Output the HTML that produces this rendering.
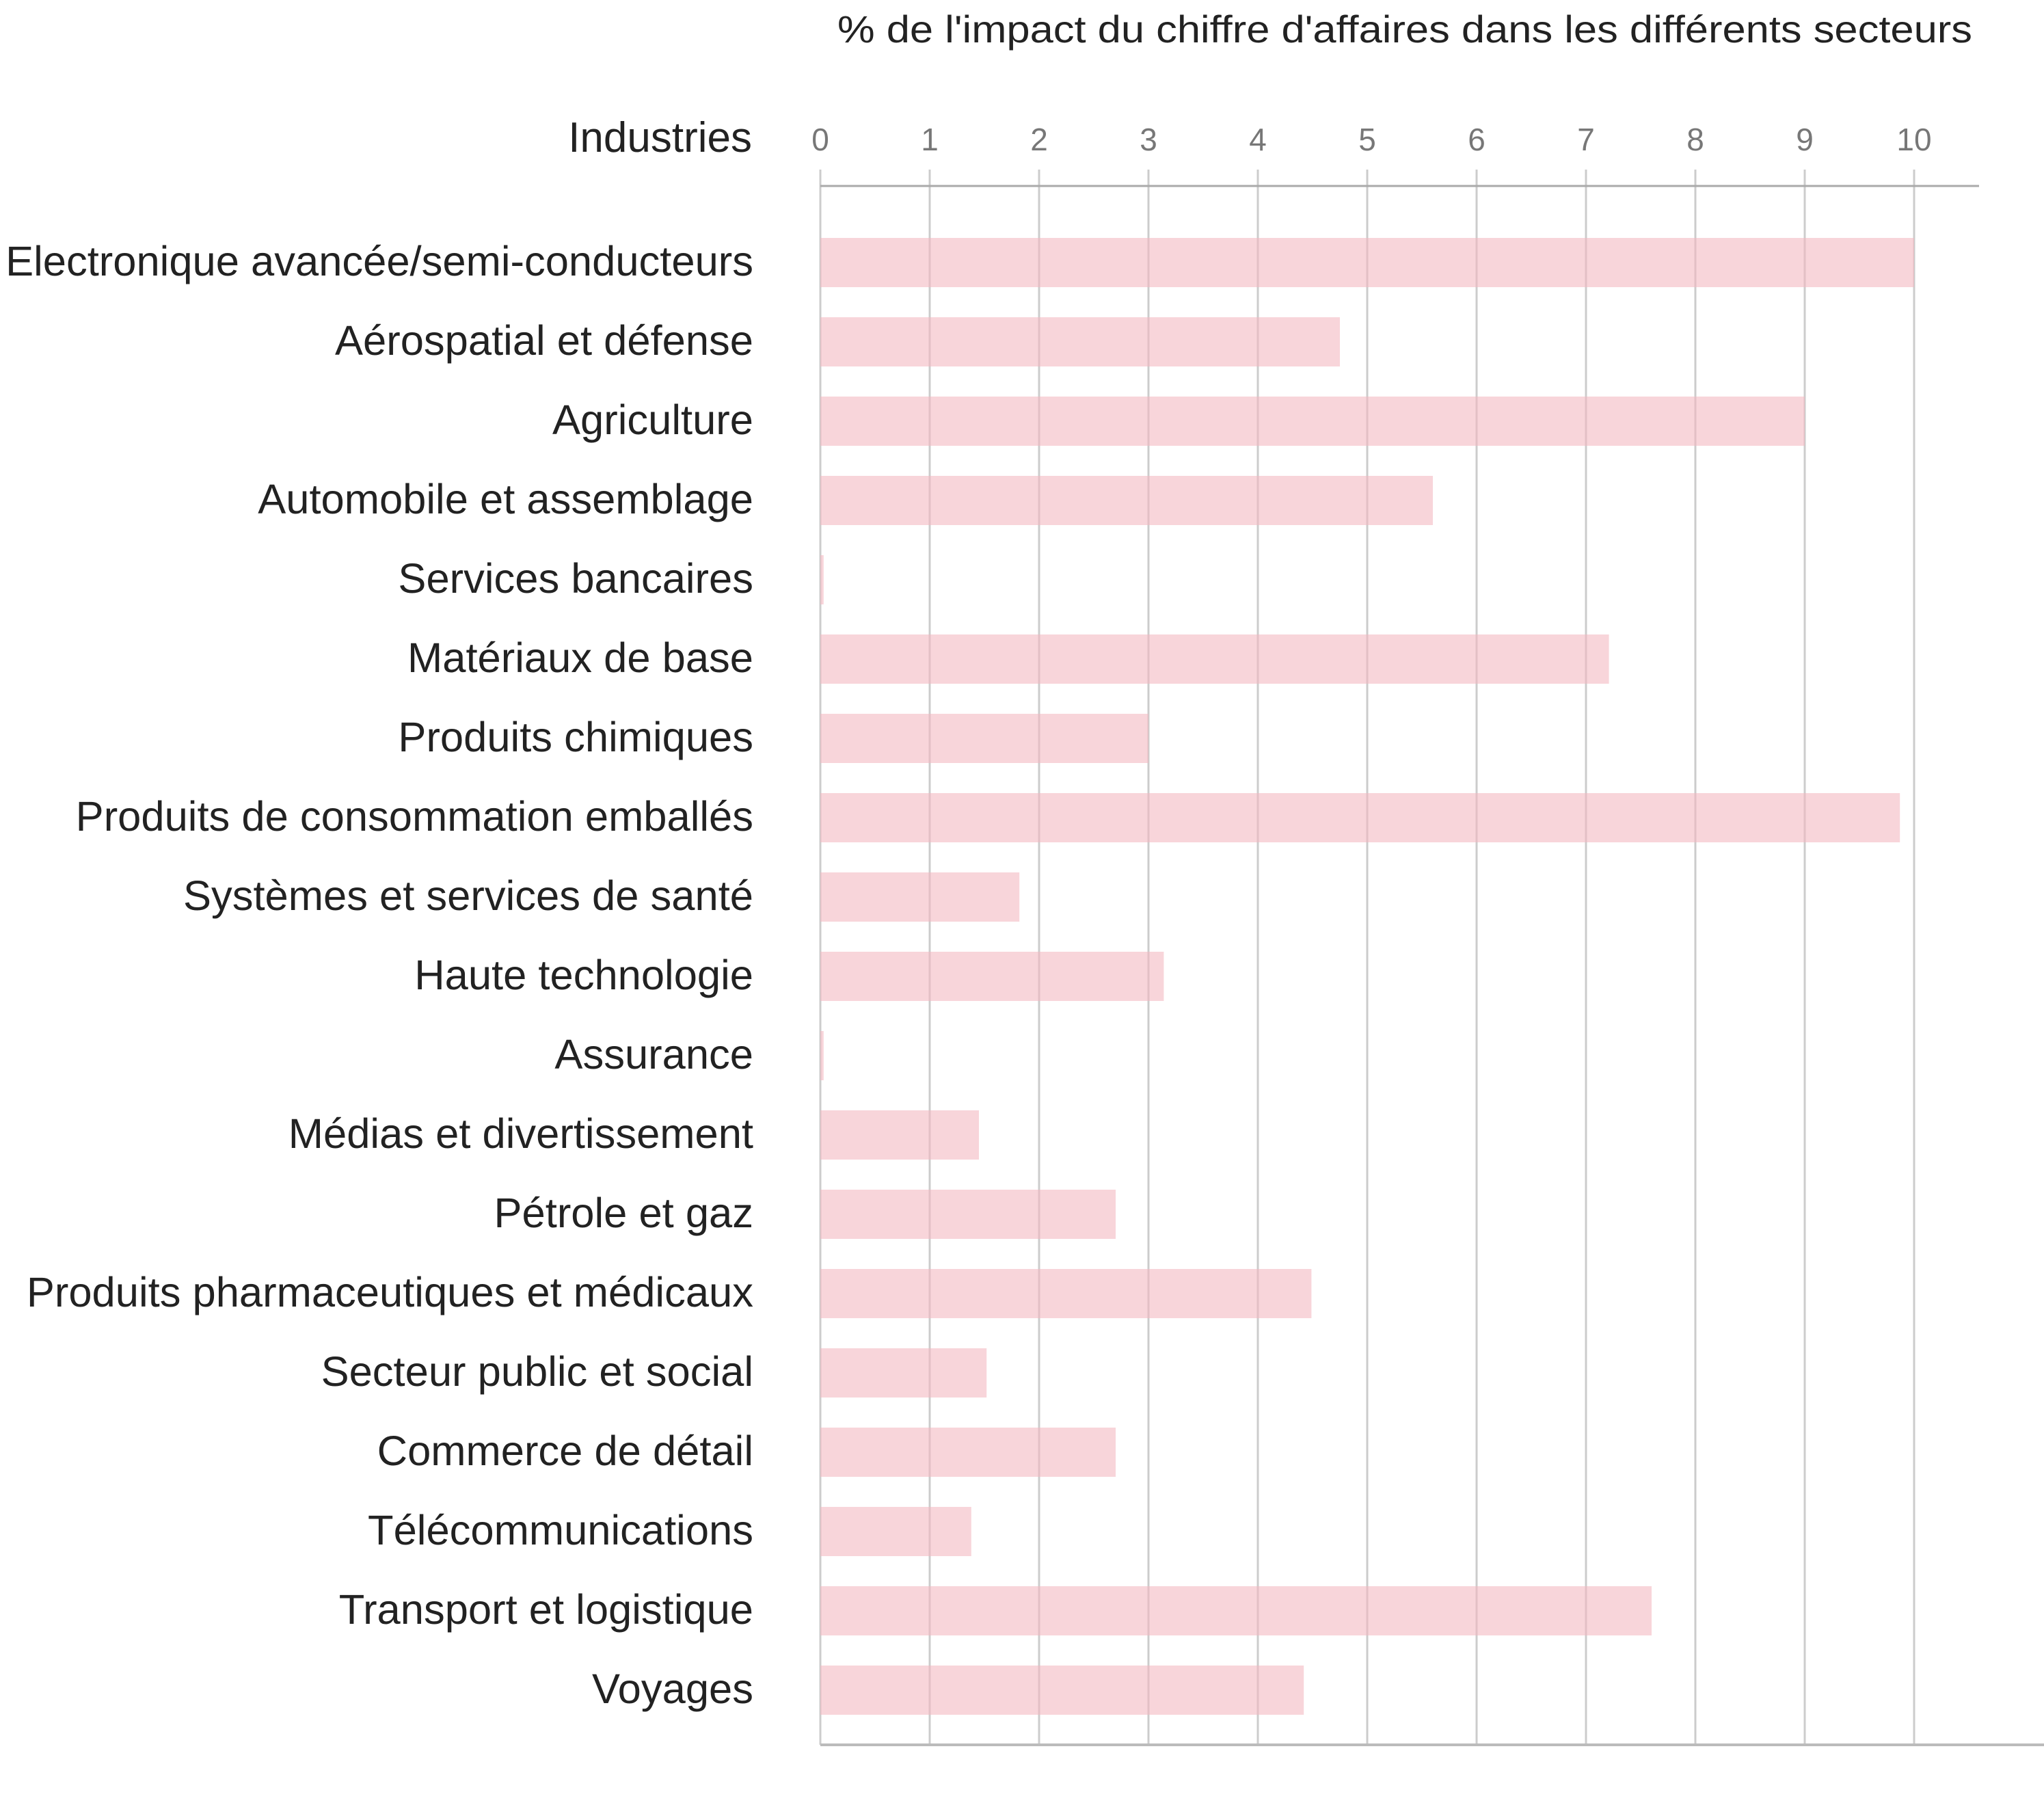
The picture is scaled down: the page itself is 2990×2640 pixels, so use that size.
<!DOCTYPE html>
<html><head><meta charset="utf-8"><style>
html,body{margin:0;padding:0;background:#fff;}
svg{display:block;font-family:"Liberation Sans",sans-serif;}
</style></head><body>
<svg id="chart" width="2990" height="2640" viewBox="0 0 2990 2640" xmlns="http://www.w3.org/2000/svg">
<text x="2885" y="62" text-anchor="end" font-size="56" fill="#222" textLength="1660" lengthAdjust="spacingAndGlyphs">% de l'impact du chiffre d'affaires dans les différents secteurs</text>
<text x="1100" y="222" text-anchor="end" font-size="62" fill="#222" font-weight="500">Industries</text>
<g id="grid"></g><g id="bars"></g><g id="labels"></g>
</svg>
<script>
const categories=["Electronique avancée/semi-conducteurs","Aérospatial et défense","Agriculture","Automobile et assemblage","Services bancaires","Matériaux de base","Produits chimiques","Produits de consommation emballés","Systèmes et services de santé","Haute technologie","Assurance","Médias et divertissement","Pétrole et gaz","Produits pharmaceutiques et médicaux","Secteur public et social","Commerce de détail","Télécommunications","Transport et logistique","Voyages"];
const values=[10,4.75,9.0,5.6,0.03,7.21,3.0,9.87,1.82,3.14,0.03,1.45,2.7,4.49,1.52,2.7,1.38,7.6,4.42];
const ticks=[0,1,2,3,4,5,6,7,8,9,10];
const NS="http://www.w3.org/2000/svg";
const x=v=>1200+v*160;
const yc=i=>384+i*116;
function mk(t,a,p){const e=document.createElementNS(NS,t);for(const k in a)e.setAttribute(k,a[k]);p.appendChild(e);return e;}
const grid=document.getElementById('grid'),bars=document.getElementById('bars'),labels=document.getElementById('labels');
ticks.forEach(t=>{
 const l=mk('line',{x1:x(t),x2:x(t),y1:248,y2:2552,stroke:'#ccc','stroke-width':3},grid);
 
 
 const tx=mk('text',{x:x(t),y:220,'text-anchor':'middle','font-size':46,fill:'#777'},grid);
 tx.textContent=t;
 
 
});
const ax=mk('line',{x1:1200,x2:2895,y1:272,y2:272,stroke:'#aaa','stroke-width':3},grid);


const ab=mk('line',{x1:1200,x2:2990,y1:2552,y2:2552,stroke:'#bbb','stroke-width':4},grid);


categories.forEach((c,i)=>{
 const r=mk('rect',{x:x(0),y:yc(i)-36,width:Math.max(x(values[i])-x(0),1),height:72,fill:'#f3b6bf','fill-opacity':0.58},bars);
 
 
 const t=mk('text',{x:1102,y:yc(i)+19,'text-anchor':'end','font-size':61.5,fill:'#222'},labels);
 t.textContent=c;
 
 
});
</script>
</body></html>
